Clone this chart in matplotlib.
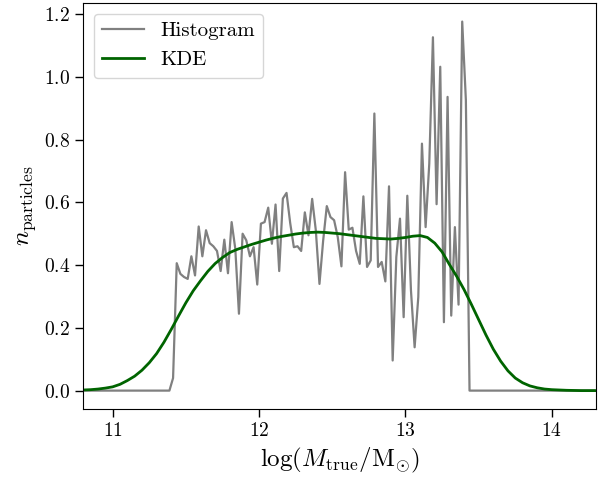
import numpy as np
import matplotlib
matplotlib.use("Agg")
import matplotlib.pyplot as plt

plt.rcParams["font.family"] = "serif"
plt.rcParams["font.serif"] = ["cmr10"]
plt.rcParams["mathtext.fontset"] = "cm"
plt.rcParams["axes.formatter.use_mathtext"] = True

# histogram of log halo mass, 140 bins of 0.025 dex between 10.8 and 14.3
bin_edges = np.linspace(10.8, 14.3, 141)
n_empty_low = 24   # empty bins below the first occupied one
hist_vals = [
    0.04, 0.406, 0.372, 0.362, 0.356, 0.428, 0.367, 0.523, 0.428, 0.511,
    0.470, 0.460, 0.445, 0.381, 0.481, 0.374, 0.537, 0.452, 0.245, 0.500,
    0.479, 0.428, 0.457, 0.338, 0.532, 0.537, 0.583, 0.468, 0.593, 0.381,
    0.612, 0.630, 0.534, 0.457, 0.460, 0.445, 0.568, 0.495, 0.611, 0.511,
    0.340, 0.477, 0.588, 0.553, 0.543, 0.489, 0.396, 0.696, 0.513, 0.519,
    0.445, 0.404, 0.619, 0.394, 0.415, 0.883, 0.394, 0.410, 0.348, 0.651,
    0.096, 0.426, 0.548, 0.234, 0.621, 0.319, 0.138, 0.298, 0.787, 0.521,
    0.723, 1.126, 0.594, 1.032, 0.218, 0.936, 0.239, 0.521, 0.274, 1.176,
    0.926,
]

# smoothed density, sampled every 0.05 dex
kde_x = np.round(np.arange(10.8, 14.3001, 0.05), 2)
kde_y = [
    0.002, 0.003, 0.005, 0.008, 0.012, 0.020, 0.032, 0.046, 0.065, 0.089,
    0.118, 0.154, 0.195, 0.238, 0.280, 0.318, 0.350, 0.380, 0.405, 0.424,
    0.440, 0.450, 0.458, 0.466, 0.473, 0.480, 0.486, 0.491, 0.495, 0.499,
    0.502, 0.504, 0.505, 0.504, 0.502, 0.500, 0.497, 0.494, 0.491, 0.488,
    0.485, 0.484, 0.483, 0.485, 0.488, 0.492, 0.494, 0.488, 0.470, 0.442,
    0.402, 0.364, 0.322, 0.275, 0.226, 0.177, 0.132, 0.094, 0.063, 0.040,
    0.025, 0.015, 0.009, 0.005, 0.003, 0.002, 0.001, 0.0005, 0.0, 0.0,
    0.0,
]

centers = 0.5 * (bin_edges[1:] + bin_edges[:-1])
counts = np.zeros(len(centers))
counts[n_empty_low:n_empty_low + len(hist_vals)] = hist_vals

fig, ax = plt.subplots(figsize=(6, 4.79), dpi=100)
fig.subplots_adjust(left=0.139, right=0.993, top=0.9935, bottom=0.146)

ax.plot(centers, counts, color="gray", lw=1.6, label="Histogram")
ax.plot(kde_x, kde_y, color="darkgreen", lw=2.0, label="KDE")

ax.set_xlim(10.8, 14.3)
ax.set_xticks([11, 12, 13, 14])
ax.set_yticks([0.0, 0.2, 0.4, 0.6, 0.8, 1.0, 1.2])
ax.tick_params(direction="out", length=6, width=1, labelsize=14)

ax.set_xlabel(r"$\log(M_{\rm true}/{\rm M}_{\odot})$", fontsize=18)
ax.set_ylabel(r"$n_{\rm particles}$", fontsize=18)
ax.legend(loc="upper left", fontsize=15)

fig.savefig("out.png", dpi=100)
